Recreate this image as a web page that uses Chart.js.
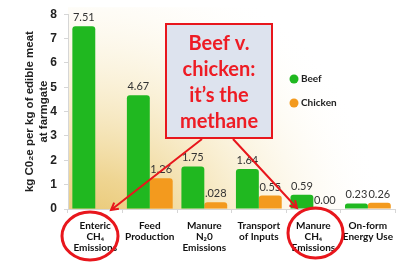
<!DOCTYPE html>
<html lang="en">
<head>
<meta charset="UTF-8">
<title>Beef v. chicken</title>
<script src="https://cdn.jsdelivr.net/npm/chart.js@4.4.1/dist/chart.umd.min.js"></script>
<style>
  html, body { margin: 0; padding: 0; background: #fff; }
  #chart { display: block; }
</style>
</head>
<body>
<canvas id="chart" width="400" height="262"></canvas>
<script>
// values
const categories = [
  ['Enteric', 'CH₄', 'Emissions'],
  ['Feed', 'Production'],
  ['Manure', 'N₂0', 'Emissions'],
  ['Transport', 'of Inputs'],
  ['Manure', 'CH₄', 'Emissions'],
  ['On-form', 'Energy Use']
];
const beef = [7.51, 4.67, 1.75, 1.64, 0.59, 0.23];
const chicken = [null, 1.26, 0.28, 0.55, 0.00, 0.26];
const beefLabels = ['7.51', '4.67', '1.75', '1.64', '0.59', '0.23'];
const chickenLabels = ['', '1.26', '.028', '0.55', '0.00', '0.26'];
const yTitle = ['kg C0₂e per kg of edible meat', 'at farmgate'];
const calloutLines = ['Beef v.', 'chicken:', 'it’s the', 'methane'];

const GREEN = '#20b820';
const ORANGE = '#f39a1e';
const RED = '#e8161c';

// beige wash behind the bars
const background = {
  id: 'background',
  beforeDraw(chart) {
    const { ctx, chartArea: a } = chart;
    ctx.save();
    ctx.fillStyle = '#fff';
    ctx.fillRect(0, 0, chart.width, chart.height);
    const g = ctx.createRadialGradient(90, 250, 0, 90, 250, 300);
    g.addColorStop(0, 'rgba(228,188,88,0.95)');
    g.addColorStop(0.25, 'rgba(236,206,128,0.85)');
    g.addColorStop(0.55, 'rgba(245,228,180,0.55)');
    g.addColorStop(0.8, 'rgba(252,245,226,0.3)');
    g.addColorStop(1, 'rgba(255,255,255,0)');
    ctx.fillStyle = g;
    ctx.fillRect(a.left, a.top - 7, a.right - a.left, a.bottom - a.top + 7);
    ctx.restore();
  }
};

// numbers above the bars
const valueLabels = {
  id: 'valueLabels',
  afterDatasetsDraw(chart) {
    const { ctx } = chart;
    const texts = [beefLabels, chickenLabels];
    ctx.save();
    ctx.font = '11px Lato';
    ctx.fillStyle = '#333';
    ctx.textAlign = 'center';
    ctx.textBaseline = 'bottom';
    chart.data.datasets.forEach((ds, d) => {
      chart.getDatasetMeta(d).data.forEach((bar, i) => {
        const t = texts[d][i];
        if (!t) return;
        ctx.fillText(t, bar.x, bar.y - 3);
      });
    });
    ctx.restore();
  }
};

function arrow(ctx, x1, y1, x2, y2) {
  const ang = Math.atan2(y2 - y1, x2 - x1);
  ctx.beginPath();
  ctx.moveTo(x1, y1);
  ctx.lineTo(x2, y2);
  ctx.moveTo(x2 - 8 * Math.cos(ang - 0.5), y2 - 8 * Math.sin(ang - 0.5));
  ctx.lineTo(x2, y2);
  ctx.lineTo(x2 - 8 * Math.cos(ang + 0.5), y2 - 8 * Math.sin(ang + 0.5));
  ctx.stroke();
}

// legend, callout box, arrows and circles
const overlay = {
  id: 'overlay',
  afterDraw(chart) {
    const { ctx } = chart;
    ctx.save();

    // legend
    ctx.font = 'bold 10px Lato';
    ctx.textAlign = 'left';
    ctx.textBaseline = 'middle';
    chart.data.datasets.forEach((ds, i) => {
      const y = 79 + i * 24;
      ctx.fillStyle = ds.backgroundColor;
      ctx.beginPath();
      ctx.arc(294, y, 4.5, 0, Math.PI * 2);
      ctx.fill();
      ctx.fillStyle = '#222';
      ctx.fillText(ds.label, 301, y);
    });

    // callout
    ctx.fillStyle = '#dde3ee';
    ctx.fillRect(166, 24, 106, 114);
    ctx.strokeStyle = RED;
    ctx.lineWidth = 2;
    ctx.strokeRect(166, 24, 106, 114);
    ctx.fillStyle = '#ee1c24';
    ctx.font = 'bold 20px Lato';
    ctx.textAlign = 'center';
    calloutLines.forEach((t, i) => ctx.fillText(t, 219, 44 + i * 26));

    // arrows
    ctx.lineWidth = 2;
    arrow(ctx, 202, 139, 111, 210);
    arrow(ctx, 233, 139, 297, 208);

    // circles round the methane labels
    ctx.lineWidth = 3;
    ctx.beginPath();
    ctx.ellipse(90, 236, 28, 24, 0, 0, Math.PI * 2);
    ctx.stroke();
    ctx.beginPath();
    ctx.ellipse(315.5, 233, 27.5, 25, 0, 0, Math.PI * 2);
    ctx.stroke();

    ctx.restore();
  }
};

new Chart(document.getElementById('chart'), {
  type: 'bar',
  data: {
    labels: categories,
    datasets: [
      { label: 'Beef', data: beef, backgroundColor: GREEN },
      { label: 'Chicken', data: chicken, backgroundColor: ORANGE }
    ]
  },
  options: {
    responsive: false,
    animation: false,
    devicePixelRatio: 1,
    layout: { padding: { top: 7, right: 0, bottom: 0, left: 0 } },
    datasets: {
      bar: {
        categoryPercentage: 0.84,
        barPercentage: 1,
        borderRadius: { topLeft: 3, topRight: 3 },
        borderSkipped: 'bottom'
      }
    },
    plugins: {
      legend: { display: false },
      tooltip: { enabled: false }
    },
    scales: {
      x: {
        afterFit(s) { s.height = 53; },
        grid: { drawOnChartArea: false, color: '#d6d6d6', tickLength: 4 },
        border: { color: '#d6d6d6' },
        ticks: {
          color: '#111',
          padding: 7,
          maxRotation: 0,
          autoSkip: false,
          font: { family: 'Lato', weight: 'bold', size: 10, lineHeight: 1.1 }
        }
      },
      y: {
        min: 0,
        max: 8,
        afterFit(s) { s.width = 68; },
        grid: { drawOnChartArea: false, color: '#d6d6d6', tickLength: 4 },
        border: { color: '#d6d6d6' },
        ticks: {
          stepSize: 1,
          color: '#222',
          padding: 7,
          font: { family: 'Liberation Sans', weight: 'bold', size: 12 }
        },
        title: {
          display: true,
          text: yTitle,
          color: '#222',
          padding: { top: 23 },
          font: { family: 'Liberation Sans', weight: 'bold', size: 11.5, lineHeight: 1.2 }
        }
      }
    }
  },
  plugins: [background, valueLabels, overlay]
});
</script>
</body>
</html>
